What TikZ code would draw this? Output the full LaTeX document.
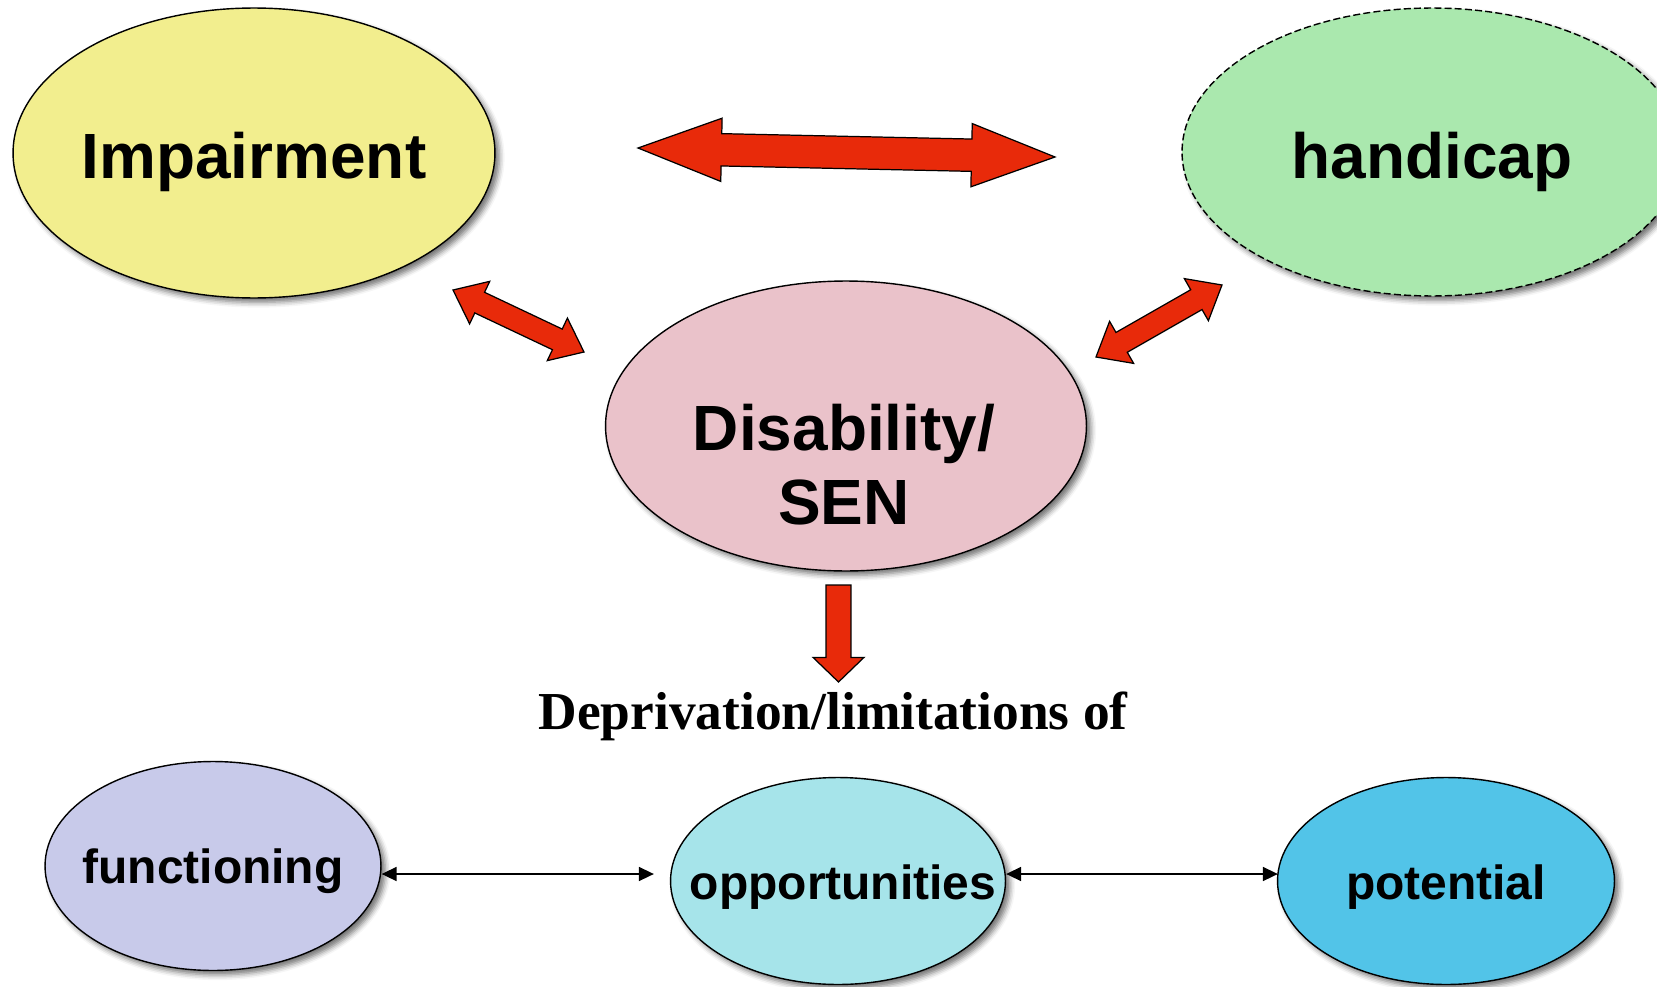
\documentclass[tikz,border=0pt]{standalone}
\usepackage{fontspec}
\setmainfont{Liberation Serif}
\setsansfont{Liberation Sans}
\usetikzlibrary{calc,shapes.geometric,arrows.meta,shadows.blur}

\definecolor{impyellow}{RGB}{242,238,142}
\definecolor{hangreen}{RGB}{170,232,174}
\definecolor{dispink}{RGB}{234,194,202}
\definecolor{funclilac}{RGB}{200,202,234}
\definecolor{oppcyan}{RGB}{166,228,234}
\definecolor{potblue}{RGB}{82,196,232}
\definecolor{arrowred}{RGB}{232,42,10}

\tikzset{
  bubble/.style={ellipse, draw, line width=0.8pt, inner sep=0pt,
    blur shadow={shadow xshift=2.5pt, shadow yshift=-2.5pt, shadow blur radius=3pt, shadow opacity=55}},
  bigtext/.style={font=\sffamily\bfseries\fontsize{36.4}{42}\selectfont, align=center},
  smalltext/.style={font=\sffamily\bfseries\fontsize{27.3}{31}\selectfont},
  redarrow/.style={draw=black, line width=0.7pt, fill=arrowred, line join=miter},
  linkarrow/.style={{Triangle[length=8.5pt,width=8pt]}-{Triangle[length=8.5pt,width=8pt]}, line width=0.75pt}
}

% fat double arrow: tips #1 #2, head length #3, half head #4, half shaft #5
\newcommand{\dblarrow}[5]{%
  \draw[redarrow] (#1)
    -- ($(#1)!#3!(#2)!#4!90:(#2)$) -- ($(#1)!#3!(#2)!#5!90:(#2)$)
    -- ($(#2)!#3!(#1)!#5!-90:(#1)$) -- ($(#2)!#3!(#1)!#4!-90:(#1)$)
    -- (#2)
    -- ($(#2)!#3!(#1)!#4!90:(#1)$) -- ($(#2)!#3!(#1)!#5!90:(#1)$)
    -- ($(#1)!#3!(#2)!#5!-90:(#2)$) -- ($(#1)!#3!(#2)!#4!-90:(#2)$)
    -- cycle;}
% fat single arrow: tail #1, tip #2
\newcommand{\sglarrow}[5]{%
  \draw[redarrow] ($(#1)!#5!90:(#2)$)
    -- ($(#2)!#3!(#1)!#5!-90:(#1)$) -- ($(#2)!#3!(#1)!#4!-90:(#1)$)
    -- (#2)
    -- ($(#2)!#3!(#1)!#4!90:(#1)$) -- ($(#2)!#3!(#1)!#5!90:(#1)$)
    -- ($(#1)!#5!-90:(#2)$) -- cycle;}

\begin{document}
\begin{tikzpicture}[x=0.02cm, y=-0.02cm]
\useasboundingbox (0,0) rectangle (1657,987);
\clip (0,0) rectangle (1657,987);

% top row
\node[bubble, fill=impyellow, minimum width=9.64cm, minimum height=5.8cm] (imp) at (254,153) {};
\node[bigtext] (imp-txt) at ($(imp)+(0,9)$) {Impairment};
\node[bubble, fill=hangreen, dashed, dash pattern=on 4pt off 1.8pt, minimum width=10cm, minimum height=5.76cm] (han) at (1432,152) {};
\node[bigtext] (han-txt) at ($(han)+(0,10)$) {handicap};
\node[bubble, fill=dispink, minimum width=9.62cm, minimum height=5.8cm] (dis) at (846,426) {};
\node[bigtext] (dis-txt) at ($(dis)+(-2,39)$) {Disability/\\SEN};

\node[font=\rmfamily\bfseries\fontsize{30.4}{34}\selectfont] (depr) at (833,716) {Deprivation/limitations of};

% bottom row
\node[bubble, fill=funclilac, minimum width=6.72cm, minimum height=4.18cm] (func) at (213,866) {};
\node[smalltext] (func-txt) at ($(func)+(0,5)$) {functioning};
\node[bubble, fill=oppcyan, minimum width=6.7cm, minimum height=4.14cm] (opp) at (838,881) {};
\node[smalltext] (opp-txt) at ($(opp)+(5,6)$) {opportunities};
\node[bubble, fill=potblue, minimum width=6.74cm, minimum height=4.14cm] (pot) at (1446,881) {};
\node[smalltext] (pot-txt) at ($(pot)+(0,6)$) {potential};

% red block arrows
\coordinate (ih-l) at (638,148);
\coordinate (ih-r) at (1055,157);
\coordinate (id-l) at (453,290);
\coordinate (id-r) at (584,352);
\coordinate (hd-r) at (1222,285);
\coordinate (hd-l) at (1096,357);
\coordinate (dd-t) at (838.5,585);
\coordinate (dd-b) at (838.5,682);
\dblarrow{ih-l}{ih-r}{47.5pt}{18pt}{9.2pt}
\dblarrow{id-l}{id-r}{16.8pt}{13.4pt}{6.5pt}
\dblarrow{hd-l}{hd-r}{16.8pt}{13.8pt}{6.5pt}
\sglarrow{dd-t}{dd-b}{14pt}{14.5pt}{7.1pt}

% thin links
\draw[linkarrow] ($(func.east)+(0,8)$) -- ($(opp.west)+(-16,-7)$);
\draw[linkarrow] ($(opp.east)+(0,-7)$) -- ($(pot.west)+(1,-7)$);
\end{tikzpicture}
\end{document}
